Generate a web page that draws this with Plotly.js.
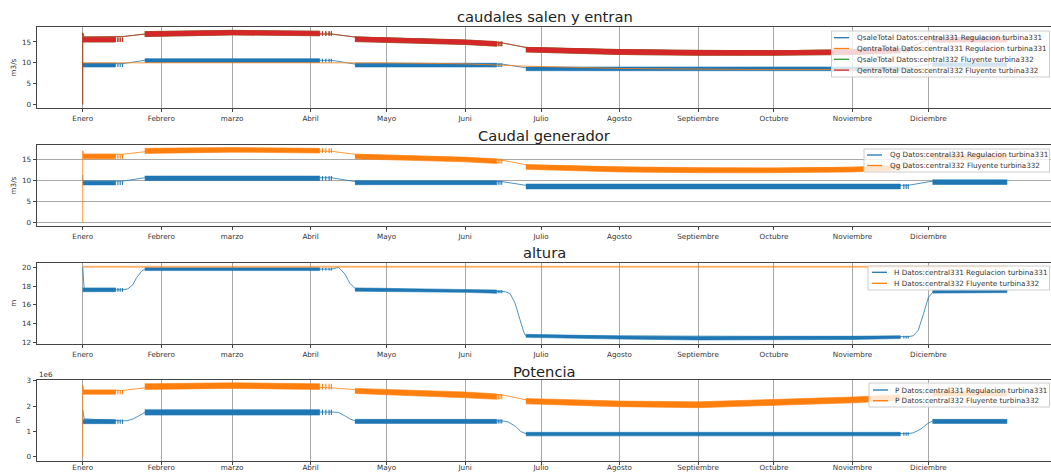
<!DOCTYPE html>
<html>
<head>
<meta charset="utf-8">
<script src="https://cdn.plot.ly/plotly-3.0.1.min.js"></script>
<style>html,body{margin:0;padding:0;background:#fff}#chart{width:1051px;height:473px}</style>
</head>
<body>
<div id="chart"></div>
<script>
// ---------------- data ----------------
const monthLabels = ['Enero','Febrero','marzo','Abril','Mayo','Juni','Julio','Agosto','Septiembre','Octubre','Noviembre','Diciembre'];
const monthStartDays = [0,31,59,90,120,151,181,212,243,273,304,334];

// periods (day of year) in which the series oscillate (dense bands)
const bandSegStart = [0, 24.5, 107.5, 175, 335.6];
const bandSegEnd   = [13, 93.6, 163.5, 322.9, 365];
// isolated last oscillations after each dense period
const spikeDays = [13.9, 14.8, 15.7, 94.7, 96, 97.3, 98.2, 164.1, 164.8, 165.5, 324.3, 325.2, 326];
// days at which band envelopes are read
const bandDays = [0, 13, 24.5, 59, 93.6, 107.5, 151, 163.5, 175, 212, 243, 273, 304, 322.9, 335.6, 365];

// Panel 1 : caudales salen y entran (m3/s)
const qsale331LineDays = [0, 0.5, 15.8, 24.5, 98.3, 107.5, 165.5, 175, 326, 335.6, 365];
const qsale331LineVals = [9.9, 9.8, 9.8, 10.6, 10.6, 9.7, 9.7, 8.8, 8.8, 9.8, 9.8];
const qsale331BandLo = [9.0, 9.0, 10.1, 10.1, 10.1, 9.0, 9.0, 9.0, 8.1, 8.1, 8.1, 8.1, 8.1, 8.1, 9.1, 9.1];
const qsale331BandHi = [9.9, 9.9, 11.0, 11.0, 11.0, 9.9, 9.9, 9.9, 9.0, 9.0, 9.0, 9.0, 9.0, 9.0, 10.0, 10.0];

const qentra331LineDays = [0, 98.3, 120, 151, 175, 212, 243, 264, 304, 334, 365];
const qentra331LineVals = [10.0, 10.05, 10.0, 9.75, 9.2, 8.65, 8.5, 8.4, 8.4, 8.6, 8.8];

const qentra332LineDays = [0, 0, 0.5, 15.8, 24.5, 59, 98.3, 107.5, 151, 165.5, 175, 212, 243, 273, 304, 326, 335.6, 365];
const qentra332LineVals = [0, 17.2, 16.2, 16.3, 16.9, 17.3, 16.9, 16.2, 15.4, 14.8, 13.7, 13.1, 12.9, 12.9, 13.1, 13.5, 16.0, 16.0];
const qentra332BandLo = [15.0, 15.0, 16.3, 16.7, 16.5, 15.1, 14.4, 14.0, 12.6, 12.0, 11.8, 11.8, 12.0, 12.4, 15.0, 15.0];
const qentra332BandHi = [16.1, 16.1, 17.5, 17.8, 17.6, 16.2, 15.5, 15.1, 13.7, 13.2, 13.0, 12.9, 13.1, 13.5, 16.1, 16.1];

// QsaleTotal 332 (run-of-river: hidden below QentraTotal 332)
const qsale332LineDays = [0, 0, 0.5, 15.8, 24.5, 59, 98.3, 107.5, 151, 165.5, 175, 212, 243, 273, 304, 326, 335.6, 365];
const qsale332LineVals = [0, 17.2, 16.2, 16.3, 16.9, 17.3, 16.9, 16.2, 15.4, 14.8, 13.7, 13.1, 12.9, 12.9, 13.1, 13.5, 16.0, 16.0];
const qsale332BandLo = [15.0, 15.0, 16.3, 16.7, 16.5, 15.1, 14.4, 14.0, 12.6, 12.0, 11.8, 11.8, 12.0, 12.4, 15.0, 15.0];
const qsale332BandHi = [16.1, 16.1, 17.5, 17.8, 17.6, 16.2, 15.5, 15.1, 13.7, 13.2, 13.0, 12.9, 13.1, 13.5, 16.1, 16.1];

// Panel 2 : Caudal generador (m3/s)
const qg331LineDays = [0, 0, 0.5, 15.8, 24.5, 98.3, 107.5, 165.5, 175, 326, 335.6, 365];
const qg331LineVals = [11.2, 10.0, 9.8, 9.8, 10.6, 10.6, 9.7, 9.7, 8.8, 8.8, 9.8, 9.8];
const qg331BandLo = [8.9, 8.9, 9.95, 9.95, 9.95, 8.95, 8.95, 8.95, 7.95, 7.95, 7.95, 7.95, 7.95, 7.95, 9.0, 9.0];
const qg331BandHi = [9.8, 9.8, 11.0, 11.0, 11.0, 9.9, 9.9, 9.9, 9.1, 9.1, 9.1, 9.1, 9.1, 9.1, 10.1, 10.1];

const qg332LineDays = [0, 0, 0.5, 15.8, 24.5, 59, 98.3, 107.5, 151, 165.5, 175, 212, 243, 273, 304, 326, 335.6, 365];
const qg332LineVals = [0, 17.0, 16.2, 16.2, 16.8, 17.3, 16.9, 16.2, 15.4, 14.8, 13.7, 13.1, 12.9, 12.9, 13.1, 13.5, 16.0, 16.0];
const qg332BandLo = [15.1, 15.1, 16.4, 16.7, 16.5, 15.1, 14.4, 14.0, 12.6, 12.0, 11.8, 11.8, 12.0, 12.4, 15.0, 15.0];
const qg332BandHi = [16.2, 16.2, 17.6, 17.8, 17.6, 16.2, 15.5, 15.1, 13.7, 13.2, 13.0, 12.9, 13.1, 13.5, 16.1, 16.1];

// Panel 3 : altura (m)
const h331LineDays = [0, 0.6, 15.8, 17.8, 19.7, 21.3, 23.3, 24.5, 98.3, 101, 103.5, 105.5, 107.5, 165.5, 166.9, 168.8, 170.7, 172.7, 174.3, 175, 326, 328, 330, 332, 334, 335.6, 365];
const h331LineVals = [20.0, 17.6, 17.6, 17.7, 18.1, 18.9, 19.6, 19.8, 19.8, 20.0, 19.3, 18.3, 17.75, 17.4, 17.4, 17.2, 16.2, 14.4, 13.0, 12.7, 12.6, 12.7, 13.3, 15.0, 16.8, 17.3, 17.4];
const h331BandLo = [17.4, 17.4, 19.65, 19.65, 19.65, 17.45, 17.33, 17.23, 12.53, 12.35, 12.25, 12.25, 12.3, 12.4, 17.25, 17.3];
const h331BandHi = [17.8, 17.8, 19.95, 19.95, 19.95, 17.8, 17.65, 17.58, 12.85, 12.67, 12.6, 12.6, 12.65, 12.7, 17.55, 17.55];

const h332LineDays = [0, 365];
const h332LineVals = [20.05, 20.05];

// Panel 4 : Potencia (W)
const p331LineDays = [0, 0.6, 15.8, 17.8, 20, 22, 24.5, 98.3, 101, 103.5, 105.5, 107.5, 165.5, 168, 171, 173, 175, 326, 328, 331, 333.5, 335.6, 365];
const p331LineVals = [1.86e6, 1.5e6, 1.42e6, 1.43e6, 1.5e6, 1.62e6, 1.75e6, 1.77e6, 1.75e6, 1.62e6, 1.5e6, 1.42e6, 1.42e6, 1.38e6, 1.2e6, 1.0e6, 0.92e6, 0.92e6, 0.95e6, 1.1e6, 1.3e6, 1.42e6, 1.42e6];
const p331BandLo = [1.31e6, 1.31e6, 1.65e6, 1.65e6, 1.65e6, 1.32e6, 1.32e6, 1.32e6, 0.83e6, 0.83e6, 0.83e6, 0.83e6, 0.83e6, 0.83e6, 1.32e6, 1.32e6];
const p331BandHi = [1.47e6, 1.47e6, 1.86e6, 1.86e6, 1.86e6, 1.48e6, 1.48e6, 1.48e6, 0.97e6, 0.97e6, 0.97e6, 0.97e6, 0.97e6, 0.97e6, 1.48e6, 1.48e6];

const p332LineDays = [0, 0, 0.5, 15.8, 24.5, 59, 98.3, 107.5, 165.5, 175, 212, 243, 273, 304, 326, 335.6, 365];
const p332LineVals = [0, 2.83e6, 2.62e6, 2.62e6, 2.72e6, 2.85e6, 2.72e6, 2.65e6, 2.45e6, 2.25e6, 2.15e6, 2.12e6, 2.18e6, 2.3e6, 2.4e6, 2.55e6, 2.55e6];
const p332BandLo = [2.47e6, 2.47e6, 2.66e6, 2.7e6, 2.66e6, 2.5e6, 2.33e6, 2.27e6, 2.09e6, 1.98e6, 1.94e6, 2.02e6, 2.13e6, 2.22e6, 2.4e6, 2.4e6];
const p332BandHi = [2.64e6, 2.64e6, 2.88e6, 2.92e6, 2.88e6, 2.7e6, 2.56e6, 2.48e6, 2.3e6, 2.2e6, 2.17e6, 2.25e6, 2.36e6, 2.45e6, 2.6e6, 2.6e6];

// ---------------- styling ----------------
const C = {blue:'#1f77b4', orange:'#ff7f0e', green:'#2ca02c', red:'#d62728'};
const FONT = 'DejaVu Sans, Liberation Sans, sans-serif';
const W = 1051, H = 473;
const px = v => v / W;
const py = v => 1 - v / H;

function segIndex(day) {
  // index of the band period that ends just before this spike day
  let k = -1;
  bandSegEnd.forEach((e, s) => { if (e <= day) k = s; });
  return k;
}
function bandTrace(lo, hi, color, xa, ya) {
  const xs = [], ys = [];
  for (let s = 0; s < bandSegStart.length; s++) {
    const idx = [];
    bandDays.forEach((d, i) => { if (d >= bandSegStart[s] && d <= bandSegEnd[s]) idx.push(i); });
    if (!idx.length) continue;
    if (xs.length) { xs.push(null); ys.push(null); }
    idx.forEach(i => { xs.push(bandDays[i]); ys.push(hi[i]); });
    idx.slice().reverse().forEach(i => { xs.push(bandDays[i]); ys.push(lo[i]); });
  }
  return {type:'scatter', mode:'lines', x:xs, y:ys, fill:'toself', fillcolor:color,
          line:{color:color, width:0.6}, xaxis:xa, yaxis:ya, showlegend:false, hoverinfo:'skip'};
}
function spikeTrace(lo, hi, color, xa, ya) {
  const xs = [], ys = [];
  spikeDays.forEach(d => {
    const s = segIndex(d);
    const i = bandDays.indexOf(bandSegEnd[s]);
    xs.push(d, d, null); ys.push(lo[i], hi[i], null);
  });
  return {type:'scatter', mode:'lines', x:xs, y:ys, line:{color:color, width:1.1},
          xaxis:xa, yaxis:ya, showlegend:false, hoverinfo:'skip'};
}
function lineTrace(days, vals, color, xa, ya, name, width, opacity) {
  return {type:'scatter', mode:'lines', x:days, y:vals, name:name, opacity:opacity || 0.8,
          line:{color:color, width:width || 1}, xaxis:xa, yaxis:ya, showlegend:false};
}
function series(days, vals, lo, hi, color, xa, ya, name) {
  const out = [lineTrace(days, vals, color, xa, ya, name)];
  if (lo) out.push(bandTrace(lo, hi, color, xa, ya), spikeTrace(lo, hi, color, xa, ya));
  return out;
}

const traces = [].concat(
  // panel 1
  series(qsale331LineDays, qsale331LineVals, qsale331BandLo, qsale331BandHi, C.blue, 'x', 'y', 'QsaleTotal Datos:central331 Regulacion turbina331'),
  series(qentra331LineDays, qentra331LineVals, null, null, C.orange, 'x', 'y', 'QentraTotal Datos:central331 Regulacion turbina331'),
  series(qsale332LineDays, qsale332LineVals, qsale332BandLo, qsale332BandHi, C.green, 'x', 'y', 'QsaleTotal Datos:central332 Fluyente turbina332'),
  series(qentra332LineDays, qentra332LineVals, qentra332BandLo, qentra332BandHi, C.red, 'x', 'y', 'QentraTotal Datos:central332 Fluyente turbina332'),
  // panel 2
  series(qg331LineDays, qg331LineVals, qg331BandLo, qg331BandHi, C.blue, 'x2', 'y2', 'Qg Datos:central331 Regulacion turbina331'),
  series(qg332LineDays, qg332LineVals, qg332BandLo, qg332BandHi, C.orange, 'x2', 'y2', 'Qg Datos:central332 Fluyente turbina332'),
  // panel 3
  series(h331LineDays, h331LineVals, h331BandLo, h331BandHi, C.blue, 'x3', 'y3', 'H Datos:central331 Regulacion turbina331'),
  [lineTrace(h332LineDays, h332LineVals, C.orange, 'x3', 'y3', 'H Datos:central332 Fluyente turbina332', 2, 0.6)],
  // panel 4
  series(p331LineDays, p331LineVals, p331BandLo, p331BandHi, C.blue, 'x4', 'y4', 'P Datos:central331 Regulacion turbina331'),
  series(p332LineDays, p332LineVals, p332BandLo, p332BandHi, C.orange, 'x4', 'y4', 'P Datos:central332 Fluyente turbina332')
);

// panel boxes in pixels [top, bottom]
const panels = [[27, 108], [145, 226], [262.7, 344], [380, 460.5]];
const xDomain = [36.5 / W, 1];
const xRange = [-18.25, 382.4];

function xAxis(anchor, grid, standoff) {
  return {domain:xDomain, range:xRange, anchor:anchor, tickmode:'array', tickvals:monthStartDays, ticktext:monthLabels,
          showgrid:grid, gridcolor:'#a8a8a8', gridwidth:1, zeroline:false, showline:true, mirror:true,
          linecolor:'#444', linewidth:1, ticks:'outside', ticklen:3, tickcolor:'#444', ticklabelstandoff:standoff || 0,
          tickfont:{family:FONT, size:7.2, color:'#333'}, automargin:false, fixedrange:true};
}
function yAxis(anchor, idx, range, tickvals, ticktext, grid, title) {
  return {domain:[py(panels[idx][1]), py(panels[idx][0])], range:range, anchor:anchor,
          tickmode:'array', tickvals:tickvals, ticktext:ticktext,
          showgrid:grid, gridcolor:'#a8a8a8', gridwidth:1, zeroline:false, showline:true, mirror:true,
          linecolor:'#444', linewidth:1, ticks:'outside', ticklen:3, tickcolor:'#444',
          tickfont:{family:FONT, size:7.2, color:'#333'}, automargin:false, fixedrange:true,
          title:{text:title, font:{family:FONT, size:7.2, color:'#333'}, standoff:4}};
}

const titles = [
  {text:'caudales salen y entran', y:17},
  {text:'Caudal generador', y:136},
  {text:'altura', y:253},
  {text:'Potencia', y:371}
];
const legendDefs = [
  {box:[831.5, 31, 1049.5, 77], rows:[37.7, 48.5, 59.3, 70.1], lineX:[834, 849], textX:855,
   items:[['QsaleTotal Datos:central331 Regulacion turbina331', C.blue],
          ['QentraTotal Datos:central331 Regulacion turbina331', C.orange],
          ['QsaleTotal Datos:central332 Fluyente turbina332', C.green],
          ['QentraTotal Datos:central332 Fluyente turbina332', C.red]]},
  {box:[864, 149, 1049.5, 172], rows:[155, 165.5], lineX:[867, 882], textX:888,
   items:[['Qg Datos:central331 Regulacion turbina331', C.blue],
          ['Qg Datos:central332 Fluyente turbina332', C.orange]]},
  {box:[868, 266, 1049.5, 290], rows:[272.3, 283.3], lineX:[872, 887], textX:892,
   items:[['H Datos:central331 Regulacion turbina331', C.blue],
          ['H Datos:central332 Fluyente turbina332', C.orange]]},
  {box:[869, 383, 1049.5, 407], rows:[390, 400.7], lineX:[873, 888], textX:893,
   items:[['P Datos:central331 Regulacion turbina331', C.blue],
          ['P Datos:central332 Fluyente turbina332', C.orange]]}
];

const annotations = [];
const shapes = [];
const plotCenter = (36.5 + 1053) / 2;
titles.forEach(t => annotations.push({text:t.text, x:px(plotCenter), y:py(t.y), xref:'paper', yref:'paper',
  xanchor:'center', yanchor:'middle', showarrow:false, font:{family:FONT, size:14.7, color:'#222'}}));
legendDefs.forEach(L => {
  shapes.push({type:'rect', xref:'paper', yref:'paper', x0:px(L.box[0]), x1:px(L.box[2]), y0:py(L.box[3]), y1:py(L.box[1]),
    fillcolor:'rgba(255,255,255,0.8)', line:{color:'#cccccc', width:1}, layer:'above'});
  L.items.forEach((it, k) => {
    shapes.push({type:'line', xref:'paper', yref:'paper', x0:px(L.lineX[0]), x1:px(L.lineX[1]), y0:py(L.rows[k]), y1:py(L.rows[k]),
      line:{color:it[1], width:1.3}, layer:'above'});
    annotations.push({text:it[0], x:px(L.textX), y:py(L.rows[k]), xref:'paper', yref:'paper', xanchor:'left', yanchor:'middle',
      showarrow:false, font:{family:FONT, size:7.2, color:'#333'}});
  });
});
annotations.push({text:'1e6', x:px(36.5), y:py(374.5), xref:'paper', yref:'paper', xanchor:'left', yanchor:'middle',
  showarrow:false, font:{family:FONT, size:7.2, color:'#333'}});

const layout = {
  width:W, height:H, margin:{l:0, r:0, t:0, b:0}, paper_bgcolor:'#fff', plot_bgcolor:'#fff', showlegend:false,
  font:{family:FONT},
  xaxis:xAxis('y', true), xaxis2:xAxis('y2', false), xaxis3:xAxis('y3', true), xaxis4:xAxis('y4', true, -3),
  yaxis:yAxis('x', 0, [-0.85, 18.6], [0,5,10,15], ['0','5','10','15'], false, 'm3/s'),
  yaxis2:yAxis('x2', 1, [-0.88, 18.4], [0,5,10,15], ['0','5','10','15'], true, 'm3/s'),
  yaxis3:yAxis('x3', 2, [11.82, 20.49], [12,14,16,18,20], ['12','14','16','18','20'], false, 'm'),
  yaxis4:yAxis('x4', 3, [-0.14e6, 3.03e6], [0,1e6,2e6,3e6], ['0','1','2','3'], false, 'm'),
  annotations:annotations, shapes:shapes
};
Plotly.newPlot('chart', traces, layout, {staticPlot:true, displayModeBar:false});
</script>
</body>
</html>
